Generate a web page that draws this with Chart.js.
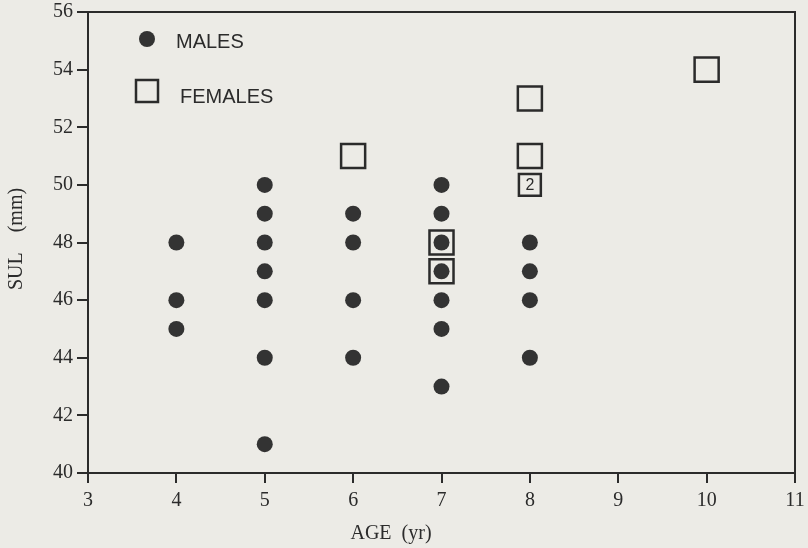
<!DOCTYPE html>
<html><head><meta charset="utf-8">
<script src="https://cdn.jsdelivr.net/npm/chart.js@4"></script>
<style>html,body{margin:0;padding:0;background:#ecebe6;}#wrap{width:808px;height:548px;}</style>
</head><body><div id="wrap"><canvas id="c" width="808" height="548"></canvas></div>
<script>
const maleAge = [4,4,4, 5,5,5,5,5,5,5, 6,6,6,6, 7,7,7,7,7,7,7, 8,8,8,8];
const maleSUL = [48,46,45, 50,49,48,47,46,44,41, 49,48,46,44, 50,49,48,47,46,45,43, 48,47,46,44];
const femaleAge = [6, 7,7, 8,8,8, 10];
const femaleSUL = [51, 48,47, 53,51,50, 54];
const femaleCount = ['', '', '', '', '', '2', ''];
const xTicks = [3,4,5,6,7,8,9,10,11];
const yTicks = [40,42,44,46,48,50,52,54,56];
const xTitle = 'AGE  (yr)';
const yTitle = 'SUL    (mm)';

const ink = '#2b2b2b';
const serif = '"Liberation Serif","Times New Roman",serif';
const sans = '"Liberation Sans",Arial,sans-serif';

// keep large markers from enlarging the layout padding
try { Chart.registry.getController('scatter').prototype.getMaxOverflow = function () { return 0; }; } catch (e) {}

const decor = {
  id: 'decor',
  afterDatasetsDraw(chart) {
    const ctx = chart.ctx, a = chart.chartArea;
    const xs = chart.scales.x, ys = chart.scales.y;
    ctx.save();
    ctx.strokeStyle = ink; ctx.lineWidth = 2;
    ctx.beginPath();
    ctx.moveTo(a.left, a.top); ctx.lineTo(a.right, a.top); ctx.lineTo(a.right, a.bottom);
    ctx.stroke();
    // count labels
    ctx.fillStyle = ink; ctx.font = '16px ' + sans;
    ctx.textAlign = 'center'; ctx.textBaseline = 'middle';
    femaleCount.forEach((t, i) => {
      if (t) ctx.fillText(t, xs.getPixelForValue(femaleAge[i]), ys.getPixelForValue(femaleSUL[i]) + 1);
    });
    // axis titles
    ctx.font = '20px ' + serif;
    ctx.fillText(xTitle, 391, 534);
    ctx.save(); ctx.translate(17, 239); ctx.rotate(-Math.PI / 2);
    ctx.fillText(yTitle, 0, 0); ctx.restore();
    // legend
    ctx.beginPath(); ctx.arc(147, 39, 8, 0, Math.PI * 2); ctx.fillStyle = '#333'; ctx.fill();
    ctx.lineWidth = 2.5; ctx.strokeStyle = ink;
    ctx.strokeRect(136, 80, 22, 22);
    ctx.fillStyle = ink; ctx.font = '20px ' + sans; ctx.textAlign = 'left';
    ctx.fillText('MALES', 176, 42);
    ctx.fillText('FEMALES', 180, 97);
    ctx.restore();
  }
};

new Chart(document.getElementById('c'), {
  type: 'scatter',
  data: {
    datasets: [
      { label: 'MALES', data: maleAge.map((x, i) => ({x, y: maleSUL[i]})),
        pointStyle: 'circle', pointRadius: 8, backgroundColor: '#333', borderColor: '#333', borderWidth: 0 },
      { label: 'FEMALES', data: femaleAge.map((x, i) => ({x, y: femaleSUL[i]})),
        pointStyle: 'rect', pointRadius: femaleCount.map(t => t ? 15.5 : 17),
        backgroundColor: 'rgba(0,0,0,0)', borderColor: ink, borderWidth: 2.5 }
    ]
  },
  options: {
    responsive: false, animation: false,
    layout: { padding: { top: 12, right: 13, left: 0, bottom: 0 } },
    plugins: { legend: { display: false }, tooltip: { enabled: false } },
    scales: {
      x: {
        type: 'linear', min: 3, max: 11,
        afterBuildTicks: s => { s.ticks = xTicks.map(v => ({value: v})); },
        afterFit: s => { s.height = 75; s.paddingLeft = 0; s.paddingRight = 0; },
        grid: { drawOnChartArea: false, drawTicks: true, tickLength: 10, color: ink, lineWidth: 2 },
        border: { display: true, color: ink, width: 2 },
        ticks: { color: ink, font: { family: serif, size: 20 }, padding: 6, maxRotation: 0 },
        title: { display: false }
      },
      y: {
        type: 'linear', min: 40, max: 56,
        afterBuildTicks: s => { s.ticks = yTicks.map(v => ({value: v})); },
        afterFit: s => { s.width = 88; s.paddingTop = 0; s.paddingBottom = 0; },
        grid: { drawOnChartArea: false, drawTicks: true, tickLength: 11, color: ink, lineWidth: 2 },
        border: { display: true, color: ink, width: 2 },
        ticks: { color: ink, font: { family: serif, size: 20 }, padding: 4 },
        title: { display: false }
      }
    }
  },
  plugins: [decor]
});
</script></body></html>
